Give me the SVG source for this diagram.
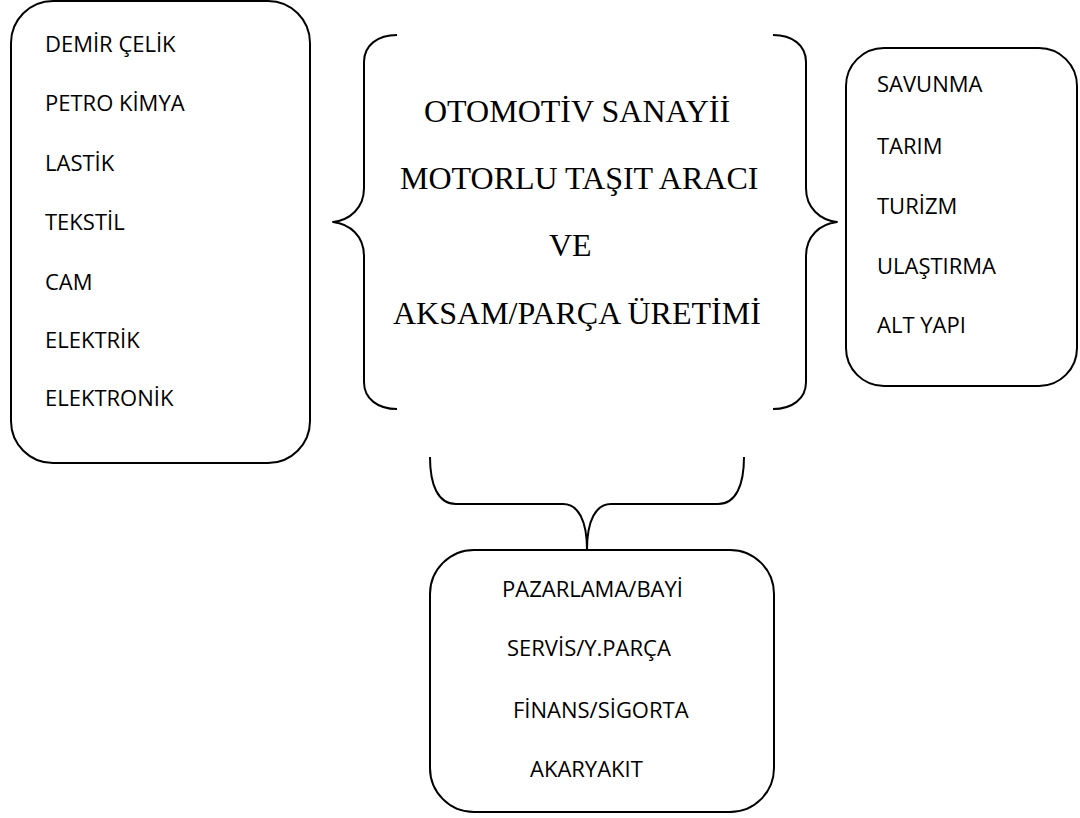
<svg xmlns="http://www.w3.org/2000/svg" width="1080" height="818" viewBox="0 0 1080 818">
<style>
.box{fill:none;stroke:#000;stroke-width:2}
.br{fill:none;stroke:#000;stroke-width:2;stroke-linejoin:round}
.t{font-family:"Open Sans","Noto Sans",sans-serif;font-size:22px;fill:#000}
.c{font-family:"Liberation Serif","Times New Roman",serif;font-size:32px;fill:#000}
</style>
<rect width="1080" height="818" fill="#fff"/>
<g id="left-box">
<rect class="box" x="11" y="1" width="299" height="462" rx="42" ry="42"/>
<text class="t" x="45" y="52">DEMİR ÇELİK</text>
<text class="t" x="45" y="111">PETRO KİMYA</text>
<text class="t" x="45" y="171">LASTİK</text>
<text class="t" x="45" y="230">TEKSTİL</text>
<text class="t" x="45" y="290">CAM</text>
<text class="t" x="45" y="348">ELEKTRİK</text>
<text class="t" x="45" y="406">ELEKTRONİK</text>
</g>
<g id="center">
<text class="c" x="424" y="122">OTOMOTİV SANAYİİ</text>
<text class="c" x="400" y="189">MOTORLU TAŞIT ARACI</text>
<text class="c" x="549" y="256">VE</text>
<text class="c" x="393" y="324">AKSAM/PARÇA ÜRETİMİ</text>
</g>
<g id="right-box">
<rect class="box" x="846" y="48" width="231" height="338" rx="38" ry="38"/>
<text class="t" x="877" y="92">SAVUNMA</text>
<text class="t" x="877" y="154">TARIM</text>
<text class="t" x="877" y="214">TURİZM</text>
<text class="t" x="877" y="274">ULAŞTIRMA</text>
<text class="t" x="877" y="333">ALT YAPI</text>
</g>
<g id="bottom-box">
<rect class="box" x="430" y="550" width="344" height="262" rx="44" ry="44"/>
<text class="t" x="502" y="597">PAZARLAMA/BAYİ</text>
<text class="t" x="507" y="656">SERVİS/Y.PARÇA</text>
<text class="t" x="513" y="718">FİNANS/SİGORTA</text>
<text class="t" x="530" y="777">AKARYAKIT</text>
</g>
<g id="connectors">
<path class="br" d="M397,35 C378,35 364,45 364,62 V188 C364,208 350,220 333,222 C350,224 364,236 364,256 V382 C364,399 378,409 397,409"/>
<path class="br" d="M773,35 C792,35 806,45 806,62 V188 C806,208 820,220 837,222 C820,224 806,236 806,256 V382 C806,399 792,409 773,409"/>
<path class="br" d="M430,457 C430,485 438,504 456,504 H563 C578,504 587,520 587,550 C587,520 596,504 611,504 H718 C736,504 744,485 744,457"/>
</g>
</svg>
